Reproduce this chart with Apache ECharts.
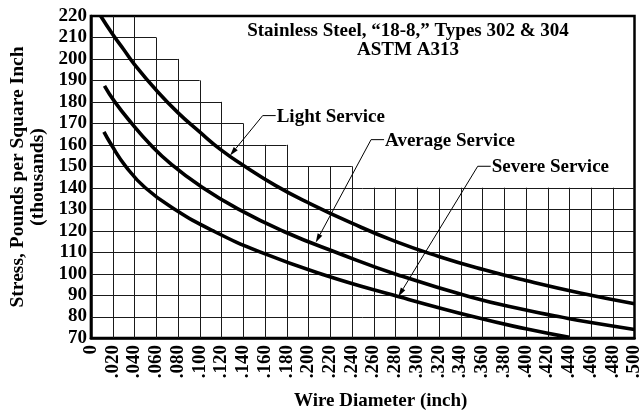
<!DOCTYPE html>
<html>
<head>
<meta charset="utf-8">
<script src="https://cdn.jsdelivr.net/npm/echarts@6/dist/echarts.min.js"></script>
<style>
  html, body { margin: 0; padding: 0; background: #fff; }
  #chart { width: 644px; height: 416px; }
</style>
</head>
<body>
<div id="chart"></div>
<script>
// Axis tick labels
const xTickLabels = ['0', '.020', '.040', '.060', '.080', '.100', '.120', '.140', '.160', '.180',
  '.200', '.220', '.240', '.260', '.280', '.300', '.320', '.340', '.360', '.380',
  '.400', '.420', '.440', '.460', '.480', '.500'];
const yTickLabels = ['70', '80', '90', '100', '110', '120', '130', '140', '150', '160',
  '170', '180', '190', '200', '210', '220'];

// Stepped outline of the ruled grid: grid rises to stepTops[i] between stepEdges[i] and stepEdges[i+1]
const gridStepEdges = [0, 0.04, 0.06, 0.08, 0.10, 0.12, 0.14, 0.18, 0.24, 0.50];
const gridStepTops = [220, 210, 200, 190, 180, 170, 160, 150, 140];

// Allowable stress (thousand psi) vs wire diameter (inch)
const lightService = [[0.009, 220], [0.02, 211.5], [0.03, 204.5], [0.04, 197.5], [0.06, 185.5],
  [0.08, 175], [0.10, 166], [0.12, 157.5], [0.14, 150.5], [0.17, 141], [0.20, 133],
  [0.24, 123.5], [0.28, 115], [0.32, 108], [0.36, 102], [0.40, 96.8], [0.45, 91], [0.50, 86]];
const averageService = [[0.0125, 187.5], [0.022, 180], [0.0375, 170], [0.054, 160.5],
  [0.0738, 151], [0.100, 141], [0.1356, 130], [0.178, 119.5], [0.2276, 109.5], [0.2819, 99.5],
  [0.350, 89], [0.400, 83], [0.430, 80], [0.460, 77.2], [0.500, 74]];
const severeService = [[0.012, 166], [0.0188, 160], [0.032, 150], [0.050, 140], [0.077, 130],
  [0.112, 120], [0.156, 110], [0.214, 99.5], [0.278, 90], [0.355, 79.5], [0.400, 74.3],
  [0.440, 70.3]];

const seriesNames = ['Light Service', 'Average Service', 'Severe Service'];

// Callout leaders: arrow tip on the curve and the elbow where the label sits (data units)
const callouts = [
  { text: 'Light Service', tip: [0.128, 155], elbow: [0.158, 173.6] },
  { text: 'Average Service', tip: [0.2068, 114.5], elbow: [0.2577, 162.4] },
  { text: 'Severe Service', tip: [0.2828, 89.3], elbow: [0.3558, 150] }
];

const FONT = 'Liberation Serif, Times New Roman, serif';
const X_STEP = 0.02, Y_STEP = 10, X_MIN = 0, X_MAX = 0.5, Y_MIN = 70, Y_MAX = 220;

// Build ruled grid segments from the stepped outline
function topAt(x) {
  let top = Y_MIN;
  for (let i = 0; i < gridStepTops.length; i++) {
    const a = gridStepEdges[i], b = gridStepEdges[i + 1];
    if (x >= a - 1e-9 && x <= b + 1e-9) top = Math.max(top, gridStepTops[i]);
  }
  return top;
}
const gridSegments = [];
for (let k = 1; k < Math.round((X_MAX - X_MIN) / X_STEP); k++) {
  const x = X_MIN + k * X_STEP;
  gridSegments.push([x, Y_MIN, x, topAt(x)]);
}
for (let k = 1; k < Math.round((Y_MAX - Y_MIN) / Y_STEP); k++) {
  const y = Y_MIN + k * Y_STEP;
  let end = X_MIN;
  for (let i = 0; i < gridStepTops.length; i++) {
    if (gridStepTops[i] >= y) end = gridStepEdges[i + 1];
  }
  gridSegments.push([X_MIN, y, end, y]);
}

const chart = echarts.init(document.getElementById('chart'), null, { renderer: 'canvas' });

const curveSeries = [lightService, averageService, severeService].map((d, i) => ({
  name: seriesNames[i],
  type: 'line',
  data: d,
  smooth: 0.5,
  showSymbol: false,
  silent: true,
  z: 5,
  lineStyle: { color: '#000', width: 3.6, cap: 'butt' }
}));

chart.setOption({
  animation: false,
  backgroundColor: '#fff',
  title: {
    text: 'Stainless Steel, \u201c18-8,\u201d Types 302 & 304\nASTM A313',
    left: 403,
    top: 17,
    textAlign: 'center',
    textStyle: { fontFamily: FONT, fontWeight: 'bold', fontSize: 19, lineHeight: 18.5, color: '#000', align: 'center' }
  },
  grid: {
    left: 84, top: 16, width: 552, height: 326,
    show: true, borderColor: '#000', borderWidth: 2.5, backgroundColor: 'transparent'
  },
  xAxis: {
    type: 'value', min: X_MIN, max: X_MAX, interval: X_STEP,
    name: 'Wire Diameter (inch)', nameLocation: 'middle', nameGap: 54,
    nameTextStyle: { fontFamily: FONT, fontWeight: 'bold', fontSize: 19, color: '#000', padding: [0, 0, 0, 36] },
    axisLine: { show: true, lineStyle: { color: '#000', width: 2.5 } },
    axisTick: { show: false },
    splitLine: { show: false },
    axisLabel: {
      rotate: 90, margin: 7, color: '#000', fontFamily: FONT, fontWeight: 'bold', fontSize: 19,
      formatter: v => xTickLabels[Math.round((v - X_MIN) / X_STEP)] ?? ''
    }
  },
  yAxis: {
    type: 'value', min: Y_MIN, max: Y_MAX, interval: Y_STEP,
    name: 'Stress, Pounds per Square Inch\n(thousands)', nameLocation: 'middle', nameGap: 40.5, nameRotate: 90,
    nameTextStyle: { fontFamily: FONT, fontWeight: 'bold', fontSize: 19.5, lineHeight: 19.5, color: '#000', align: 'center' },
    axisLine: { show: true, lineStyle: { color: '#000', width: 2.5 } },
    axisTick: { show: false },
    splitLine: { show: false },
    axisLabel: {
      margin: 4, color: '#000', fontFamily: FONT, fontWeight: 'bold', fontSize: 19,
      formatter: v => yTickLabels[Math.round((v - Y_MIN) / Y_STEP)] ?? ''
    }
  },
  series: [
    {
      name: 'grid',
      type: 'custom',
      silent: true,
      z: 1,
      data: gridSegments,
      encode: { x: [0, 2], y: [1, 3] },
      renderItem: (params, api) => {
        const p1 = api.coord([api.value(0), api.value(1)]);
        const p2 = api.coord([api.value(2), api.value(3)]);
        const vertical = api.value(0) === api.value(2);
        const s = v => Math.round(v) + 0.5;
        return {
          type: 'line',
          shape: vertical
            ? { x1: s(p1[0]), y1: p1[1], x2: s(p2[0]), y2: p2[1] }
            : { x1: p1[0], y1: s(p1[1]), x2: p2[0], y2: s(p2[1]) },
          style: { stroke: '#1a1a1a', lineWidth: 1 }
        };
      }
    },
    ...curveSeries
  ]
});

// Callout leaders with arrowheads and labels, placed through the axes' scales
function drawCallouts() {
  const els = [];
  const DASH = 13, GAP = 1, HEAD_LEN = 9, HEAD_HALF = 2.6;
  callouts.forEach(c => {
    const t = chart.convertToPixel({ gridIndex: 0 }, c.tip);
    const e = chart.convertToPixel({ gridIndex: 0 }, c.elbow);
    const dx = t[0] - e[0], dy = t[1] - e[1];
    const len = Math.hypot(dx, dy);
    const ux = dx / len, uy = dy / len;
    const bx = t[0] - ux * HEAD_LEN, by = t[1] - uy * HEAD_LEN;
    els.push({
      type: 'polyline', silent: true, z: 10,
      shape: { points: [[e[0] + DASH, e[1]], [e[0], e[1]], [bx, by]] },
      style: { stroke: '#000', lineWidth: 1, fill: null }
    });
    els.push({
      type: 'polygon', silent: true, z: 10,
      shape: { points: [[t[0], t[1]], [bx - uy * HEAD_HALF, by + ux * HEAD_HALF], [bx + uy * HEAD_HALF, by - ux * HEAD_HALF]] },
      style: { fill: '#000' }
    });
    els.push({
      type: 'text', silent: true, z: 10,
      x: e[0] + DASH + GAP, y: e[1] + 1,
      style: {
        text: c.text, fill: '#000', font: 'bold 19px ' + FONT,
        textAlign: 'left', textVerticalAlign: 'middle',
        backgroundColor: '#fff'
      }
    });
  });
  chart.setOption({ graphic: els });
}
drawCallouts();
</script>
</body>
</html>
